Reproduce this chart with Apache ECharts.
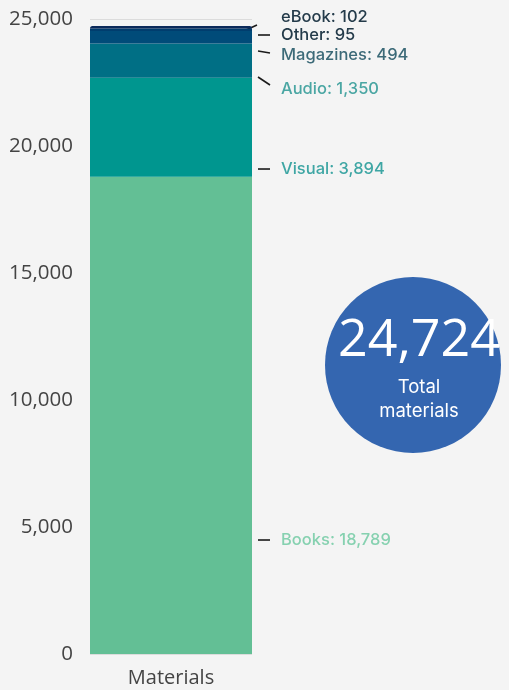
<!DOCTYPE html>
<html><head><meta charset="utf-8">
<script src="https://cdn.jsdelivr.net/npm/echarts@6/dist/echarts.min.js"></script>
<style>html,body{margin:0;padding:0;background:#f4f4f4}#c{width:509px;height:690px}</style>
</head><body><div id="c"></div>
<script>
var categories = ['Materials'];
var seriesNames = ['Books', 'Visual', 'Audio', 'Magazines', 'Other', 'eBook'];
var seriesValues = [18789, 3894, 1350, 494, 95, 102];
var seriesColors = ['#63bf95', '#00968f', '#006f85', '#004b79', '#003d6e', '#0b2a5b'];
var labelColors = ['#86d1b0', '#3ea6a4', '#4aa6a3', '#3c6a78', '#243b4a', '#243b4a'];
// label leader positions in data units (y value where the line starts, ends, and where the text sits)
var lineFrom = [4488, 19094, 22717, 23740, 24370, 24567];
var lineTo = [4488, 19094, 22402, 23661, 24370, 24764];
var labelAt = [4488, 19094, 22244, 23583, 24370, 25079];
var yTicks = [0, 5000, 10000, 15000, 20000, 25000];

var total = seriesValues.reduce(function(a, b){ return a + b; }, 0);
var fmt = function(v){ return v.toLocaleString('en-US'); };

var chart = echarts.init(document.getElementById('c'));
var series = seriesNames.map(function(n, i){
  return {
    name: n, type: 'bar', stack: 'total', barWidth: '100%',
    data: [seriesValues[i]],
    itemStyle: { color: seriesColors[i], borderRadius: i === seriesNames.length - 1 ? [9, 9, 0, 0] : 0 },
    emphasis: { disabled: true }
  };
});
var labelData = seriesNames.map(function(n, i){
  return [categories[0], lineFrom[i], lineTo[i], labelAt[i], i];
});
series.push({
  type: 'custom', clip: false, silent: true,
  data: labelData,
  renderItem: function(params, api){
    var i = api.value(4);
    var band = api.size([1, 0])[0];
    var p1 = api.coord([categories[0], api.value(1)]);
    var p2 = api.coord([categories[0], api.value(2)]);
    var p3 = api.coord([categories[0], api.value(3)]);
    var right = p1[0] + band / 2;
    var x1 = i === 5 ? right - 6 : right + 6;
    var x2 = i === 5 ? right + 5 : right + 18;
    return { type: 'group', children: [
      { type: 'line', shape: { x1: x1, y1: p1[1], x2: x2, y2: p2[1] }, style: { stroke: '#1a1a1a', lineWidth: 1.6 } },
      { type: 'text', style: { x: right + 29, y: p3[1], text: seriesNames[i] + ': ' + fmt(seriesValues[i]),
        fill: labelColors[i], font: '500 16.5px Inter', verticalAlign: 'middle', align: 'left' } }
    ]};
  }
});

chart.setOption({
  backgroundColor: '#f4f4f4',
  animation: false,
  grid: { left: 90, right: 257, top: 19, bottom: 36 },
  xAxis: { type: 'category', data: categories,
    axisLine: { show: false }, axisTick: { show: false },
    axisLabel: { color: '#444', fontSize: 20, fontFamily: 'Open Sans', margin: 14 } },
  yAxis: { type: 'value', min: yTicks[0], max: yTicks[yTicks.length - 1], interval: 5000,
    axisLine: { show: false }, axisTick: { show: false },
    splitLine: { lineStyle: { color: '#dcdcdc' } },
    axisLabel: { color: '#444', fontSize: 20.5, fontFamily: 'Open Sans', margin: 17, formatter: fmt } },
  graphic: [
    { type: 'circle', shape: { cx: 413, cy: 365, r: 88 }, style: { fill: '#3466b0' } },
    { type: 'text', style: { x: 419, y: 341, text: fmt(total), fill: '#fff', font: '52px "Open Sans"', align: 'center', verticalAlign: 'middle' } },
    { type: 'text', style: { x: 419, y: 387, text: 'Total', fill: '#fff', font: '18.5px Inter', align: 'center', verticalAlign: 'middle' } },
    { type: 'text', style: { x: 419, y: 411, text: 'materials', fill: '#fff', font: '18.5px Inter', align: 'center', verticalAlign: 'middle' } }
  ],
  series: series
});
</script></body></html>
